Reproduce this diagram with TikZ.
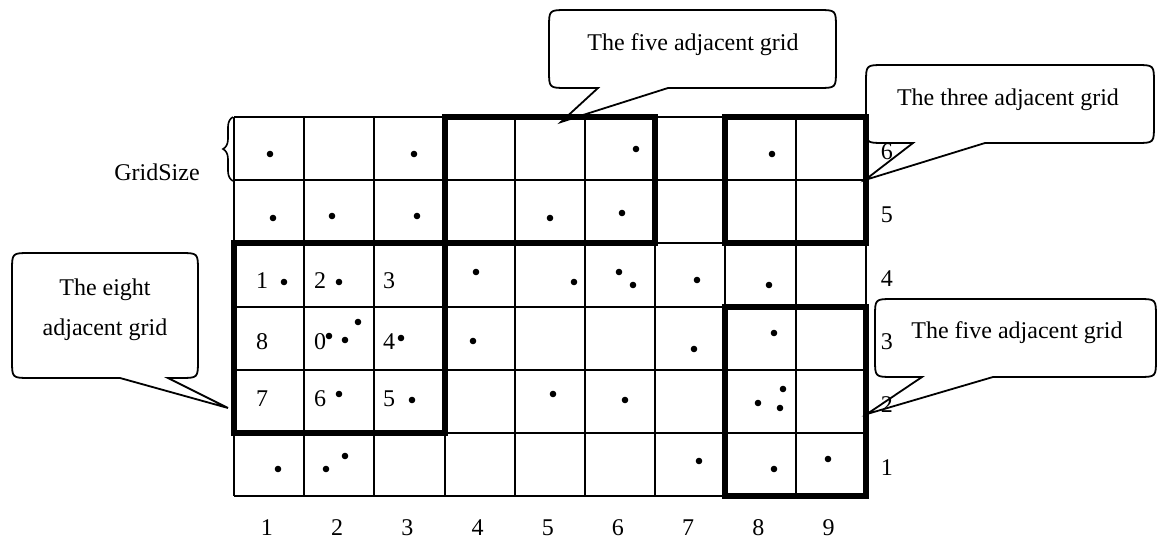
\documentclass[tikz,border=0pt]{standalone}
\usepackage{fontspec}
\setmainfont{Liberation Serif}
\usetikzlibrary{decorations.pathreplacing}
\tikzset{
  gridline/.style={line width=1pt},
  blockline/.style={line width=3pt, line join=miter},
  bubble/.style={line width=0.9pt, line join=miter},
  lbl/.style={inner sep=0pt, font=\fontsize{12}{14}\selectfont},
  pt/.style={fill=black},
}
% rounded callout: #1,#2 top-left, #3,#4 bottom-right, #5,#6 pointer base, (#7) tip
\newcommand{\callbubble}[7]{%
  \draw[bubble] (#5,#4) -- (#7) -- (#6,#4)
    -- ({#3-18},#4) .. controls (#3,#4) .. (#3,{#4-18})
    -- (#3,{#2+18}) .. controls (#3,#2) .. ({#3-18},#2)
    -- ({#1+18},#2) .. controls (#1,#2) .. (#1,{#2+18})
    -- (#1,{#4-18}) .. controls (#1,#4) .. ({#1+18},#4) -- cycle;}
\begin{document}
\begin{tikzpicture}[x=0.5pt,y=-0.5pt]
\useasboundingbox (0,0) rectangle (1158,540);

% cell grid: 9 columns, 6 rows (unit = one cell)
\begin{scope}[shift={(234,117)}, x=35.1pt, y=-31.6pt]
  \foreach \c in {0,...,9} \draw[gridline] (\c,0) -- (\c,6);
  \foreach \r in {0,...,6} \draw[gridline] (0,\r) -- (9,\r);
  \draw[blockline] (0,2) rectangle (3,5);
  \draw[blockline] (3,0) rectangle (6,2);
  \draw[blockline] (7,0) rectangle (9,2);
  \draw[blockline] (7,3) rectangle (9,6);
  \foreach \c in {1,...,9} \node[lbl] (col\c) at ({\c-0.53},6.5) {\c};
  \foreach \r in {1,...,6} \node[lbl] (row\r) at (9.3,{6.55-\r}) {\r};
\end{scope}

% cell numbering around cell 0
\node[lbl] (n1) at (262,281) {1};
\node[lbl] (n2) at (320,281) {2};
\node[lbl] (n3) at (389,281) {3};
\node[lbl] (n8) at (262,342) {8};
\node[lbl] (n0) at (320,342) {0};
\node[lbl] (n4) at (389,342) {4};
\node[lbl] (n7) at (262,399) {7};
\node[lbl] (n6) at (320,399) {6};
\node[lbl] (n5) at (389,399) {5};

% data points
\foreach \p in {(270,154),(414,154),(636,149),(772,154),
  (273,218),(332,216),(417,216),(550,218),(622,213),
  (284,282),(339,282),(476,272),(574,282),(619,272),(633,285),(697,280),(769,285),
  (329,336),(345,340),(358,322),(401,338),(473,341),(694,349),(774,333),
  (339,394),(412,400),(553,394),(625,400),(758,403),(783,389),(780,408),
  (278,469),(326,469),(345,456),(699,461),(774,469),(828,459)}
  \fill[pt] \p circle[radius=1.65pt];

% grid size brace
\draw[line width=0.8pt, decorate, decoration={brace, amplitude=5pt}] (233,181) -- (233,117);
\node[lbl] (gs) at (157,172) {GridSize};

% callouts
\coordinate (tipA) at (228,408);
\coordinate (tipB) at (561,122);
\coordinate (tipC) at (865,180);
\coordinate (tipD) at (867,414);
\callbubble{12}{253}{198}{378}{120}{168}{tipA}
\callbubble{549}{10}{836}{88}{598}{668}{tipB}
\callbubble{866}{65}{1154}{143}{913}{985}{tipC}
\callbubble{875}{299}{1156}{377}{922}{993}{tipD}
\node[lbl] (eightA) at (105,290) {The eight};
\node[lbl] (eightB) at (105,330) {adjacent grid};
\node[lbl] (fiveTop) at (693,45) {The five adjacent grid};
\node[lbl] (three) at (1008,100) {The three adjacent grid};
\node[lbl] (fiveLow) at (1017,333) {The five adjacent grid};
\end{tikzpicture}
\end{document}
